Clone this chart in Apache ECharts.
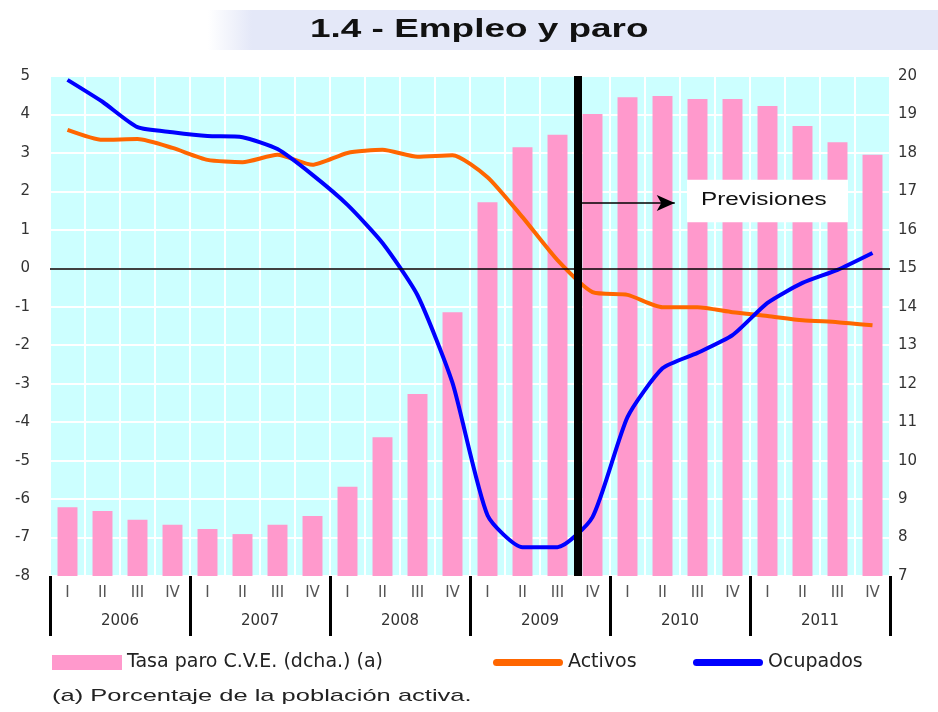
<!DOCTYPE html>
<html>
<head>
<meta charset="utf-8">
<script src="https://cdn.jsdelivr.net/npm/echarts@6/dist/echarts.min.js"></script>
<style>
  html, body { margin: 0; padding: 0; background: #fff; }
  #chart { width: 938px; height: 712px; }
</style>
</head>
<body>
<div id="chart"></div>
<script>
// datos
const quarters = ['I', 'II', 'III', 'IV', 'I', 'II', 'III', 'IV', 'I', 'II', 'III', 'IV',
  'I', 'II', 'III', 'IV', 'I', 'II', 'III', 'IV', 'I', 'II', 'III', 'IV']
const years = ['2006', '2007', '2008', '2009', '2010', '2011']
const tasaParo = [8.79, 8.69, 8.46, 8.33, 8.22, 8.09, 8.33, 8.56, 9.32, 10.61, 11.73, 13.86,
  16.72, 18.15, 18.47, 19.01, 19.45, 19.48, 19.4, 19.4, 19.22, 18.7, 18.28, 17.95]
const activos = [3.6, 3.34, 3.36, 3.13, 2.82, 2.76, 2.95, 2.69, 3.0, 3.08, 2.9, 2.94,
  2.37, 1.33, 0.21, -0.62, -0.69, -1.01, -1.01, -1.14, -1.24, -1.35, -1.4, -1.48]
const ocupados = [4.9, 4.33, 3.67, 3.54, 3.44, 3.41, 3.1, 2.43, 1.65, 0.66, -0.7, -2.98,
  -6.42, -7.25, -7.25, -6.47, -3.87, -2.6, -2.2, -1.74, -0.9, -0.38, -0.04, 0.4]
// inicio de previsiones (posicion en trimestres desde el origen)
const inicioPrevision = 15.08

const font = 'Liberation Sans, Arial, sans-serif'
const wideFont = 'DejaVu Sans, Verdana, sans-serif'
const lineIcon = 'path://M4,0 L76,0 A4,4 0 0 1 76,8 L4,8 A4,4 0 0 1 4,0 Z'
const myChart = echarts.init(document.getElementById('chart'))

// una leyenda por serie, para colocarlas como en el original
const legendBase = {
  top: 648,
  itemWidth: 70,
  itemHeight: 15,
  textStyle: { fontSize: 19, color: '#222', fontFamily: wideFont }
}

const options = {
  animation: false,
  textStyle: { fontFamily: wideFont },
  legend: [
    Object.assign({ left: 47, data: [{ name: 'Tasa paro C.V.E. (dcha.) (a)', icon: 'rect' }] }, legendBase),
    Object.assign({ left: 488, data: [{ name: 'Activos', icon: lineIcon }] }, legendBase),
    Object.assign({ left: 688, data: [{ name: 'Ocupados', icon: lineIcon }] }, legendBase)
  ],
  grid: {
    left: 50,
    right: 48,
    top: 76,
    bottom: 136,
    show: true,
    backgroundColor: '#ccffff',
    borderWidth: 0
  },
  xAxis: [
    {
      type: 'category',
      data: quarters,
      axisLine: { show: false },
      axisTick: { show: false },
      axisLabel: { color: '#555', fontSize: 15, margin: 10, interval: 0 },
      splitLine: { show: true, lineStyle: { color: '#ffffff', width: 2 } }
    },
    {
      type: 'category',
      data: years,
      position: 'bottom',
      axisLine: { show: false },
      axisTick: { show: true, length: 60, lineStyle: { color: '#000', width: 3 } },
      axisLabel: { color: '#333', fontSize: 15, margin: 38 }
    },
    {
      type: 'value',
      min: 0,
      max: 24,
      show: false
    }
  ],
  yAxis: [
    {
      type: 'value',
      min: -8,
      max: 5,
      interval: 1,
      axisLine: { show: false },
      axisTick: { show: false },
      axisLabel: { color: '#333', fontSize: 15, margin: 20 },
      splitLine: { show: true, lineStyle: { color: '#ffffff', width: 2 } }
    },
    {
      type: 'value',
      min: 7,
      max: 20,
      interval: 1,
      axisLine: { show: false },
      axisTick: { show: false },
      axisLabel: { color: '#333', fontSize: 15, margin: 8 },
      splitLine: { show: false }
    }
  ],
  series: [
    {
      name: 'Tasa paro C.V.E. (dcha.) (a)',
      type: 'bar',
      xAxisIndex: 0,
      yAxisIndex: 1,
      barWidth: '57%',
      data: tasaParo,
      itemStyle: { color: '#ff99cc' },
      z: 2
    },
    {
      name: 'Activos',
      type: 'line',
      xAxisIndex: 0,
      yAxisIndex: 0,
      data: activos,
      smooth: 0.2,
      symbol: 'none',
      lineStyle: { color: '#ff6600', width: 4 },
      itemStyle: { color: '#ff6600' },
      z: 4
    },
    {
      name: 'Ocupados',
      type: 'line',
      xAxisIndex: 0,
      yAxisIndex: 0,
      data: ocupados,
      smooth: 0.2,
      symbol: 'none',
      lineStyle: { color: '#0000ff', width: 4 },
      itemStyle: { color: '#0000ff' },
      z: 4
    },
    {
      // linea de cero
      type: 'line',
      xAxisIndex: 2,
      yAxisIndex: 0,
      data: [],
      z: 3,
      markLine: {
        silent: true,
        symbol: 'none',
        label: { show: false },
        lineStyle: { color: '#000', width: 1.5, type: 'solid' },
        data: [{ yAxis: 0 }]
      }
    },
    {
      // previsiones
      type: 'line',
      xAxisIndex: 2,
      yAxisIndex: 0,
      data: [],
      z: 6,
      markLine: {
        silent: true,
        symbol: 'none',
        label: { show: false },
        data: [
          { xAxis: inicioPrevision, lineStyle: { color: '#000', width: 8, type: 'solid' } },
          [
            { coord: [inicioPrevision, 1.7], symbol: 'none', lineStyle: { color: '#000', width: 1.5, type: 'solid' } },
            { coord: [17.85, 1.7], symbol: 'arrow', symbolSize: [12, 18] }
          ]
        ]
      }
    }
  ]
}
myChart.setOption(options)

// cuadro "Previsiones" y textos fijos
const p1 = myChart.convertToPixel({ seriesIndex: 4 }, [18.2, 2.3])
const p2 = myChart.convertToPixel({ seriesIndex: 4 }, [22.8, 1.2])
myChart.setOption({
  graphic: [
    {
      type: 'rect',
      shape: { x: 208, y: 10, width: 730, height: 40 },
      style: {
        fill: new echarts.graphic.LinearGradient(0, 0, 1, 0, [
          { offset: 0, color: '#ffffff' },
          { offset: 0.06, color: '#e4e8f8' },
          { offset: 1, color: '#e4e8f8' }
        ])
      },
      z: 0
    },
    {
      type: 'text',
      x: 310,
      y: 17,
      scaleX: 1.42,
      style: { text: '1.4 - Empleo y paro', font: 'bold 26px ' + font, fill: '#111' }
    },
    {
      type: 'text',
      x: 52,
      y: 688,
      scaleX: 1.5,
      style: { text: '(a) Porcentaje de la población activa.', font: '17px ' + font, fill: '#222' }
    },
    {
      type: 'rect',
      z: 100,
      shape: { x: p1[0], y: p1[1], width: p2[0] - p1[0], height: p2[1] - p1[1] },
      style: { fill: '#ffffff' }
    },
    {
      type: 'text',
      z: 101,
      x: p1[0] + 14,
      y: (p1[1] + p2[1]) / 2 - 10,
      scaleX: 1.35,
      style: { text: 'Previsiones', font: '18px ' + font, fill: '#111' }
    }
  ]
})
</script>
</body>
</html>
